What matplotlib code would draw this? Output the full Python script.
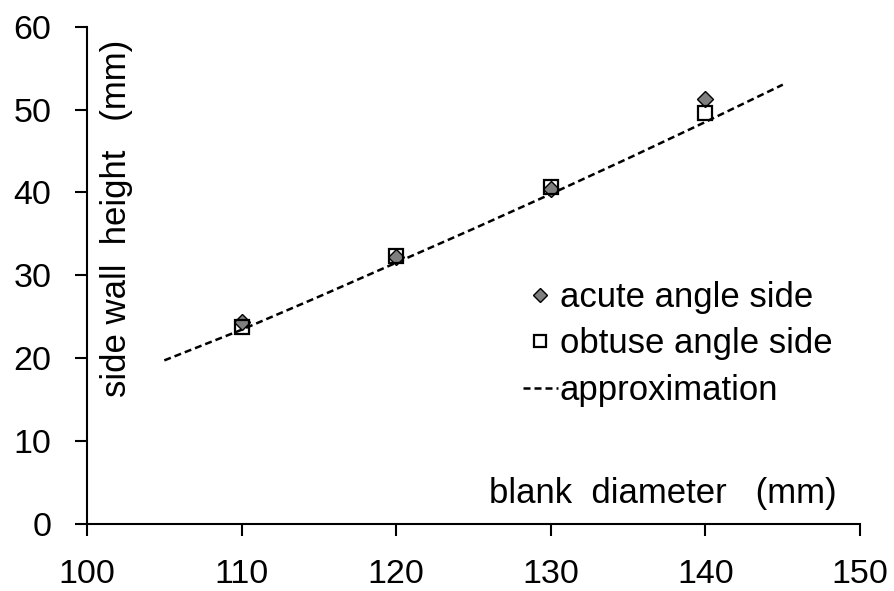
import matplotlib
matplotlib.use("Agg")
import matplotlib.pyplot as plt

plt.rcParams['font.family'] = ['Liberation Sans', 'DejaVu Sans']

# data
diam = [110, 120, 130, 140]
acute = [24.3, 32.2, 40.4, 51.3]
obtuse = [23.7, 32.3, 40.7, 49.6]
approx_x = [105, 110, 115, 120, 125, 130, 135, 140, 145]
approx_y = [19.7, 23.4, 27.4, 31.5, 35.6, 39.8, 44.1, 48.5, 53.0]
xticks = [100, 110, 120, 130, 140, 150]
yticks = [0, 10, 20, 30, 40, 50, 60]

fig = plt.figure(figsize=(8.95, 5.91), dpi=100)
ax = fig.add_axes([0.0972, 0.1142, 0.961 - 0.0972, 0.9548 - 0.1142])

ax.plot(approx_x, approx_y, color='black', lw=1.8, dashes=(2.8, 1.6),
        label='approximation', zorder=2)
ax.plot(diam, acute, linestyle='none', marker='D', ms=8.3, mfc='#7f7f7f',
        mec='black', mew=1.0, label='acute angle side', zorder=3)
ax.plot(diam, obtuse, linestyle='none', marker='s', ms=9.5, mfc='none',
        mec='black', mew=1.6, label='obtuse angle side', zorder=4)

ax.set_xlim(100, 150)
ax.set_ylim(0, 60)
ax.set_xticks(xticks)
ax.set_yticks(yticks)
for s in ['top', 'right']:
    ax.spines[s].set_visible(False)
for s in ['left', 'bottom']:
    ax.spines[s].set_linewidth(1.5)
ax.tick_params(axis='both', direction='out', length=8.6, width=1.5,
               labelsize=24.5)
ax.tick_params(axis='x', pad=17)
ax.tick_params(axis='y', pad=17)

ax.text(148.5, 2.5, 'blank  diameter   (mm)', fontsize=25, ha='right',
        va='baseline')
ax.text(101.9, 36.9, 'side wall  height   (mm)', fontsize=25, ha='center',
        va='center', rotation=90)

h, l = ax.get_legend_handles_labels()
order = [1, 2, 0]
ax.legend([h[i] for i in order], [l[i] for i in order], loc='upper left',
          bbox_to_anchor=(0.564, 0.488), frameon=False, fontsize=25,
          handlelength=1.0, handletextpad=0.06, labelspacing=0.385,
          borderpad=0, borderaxespad=0, markerscale=0.88)

fig.savefig('out.png', dpi=100)
